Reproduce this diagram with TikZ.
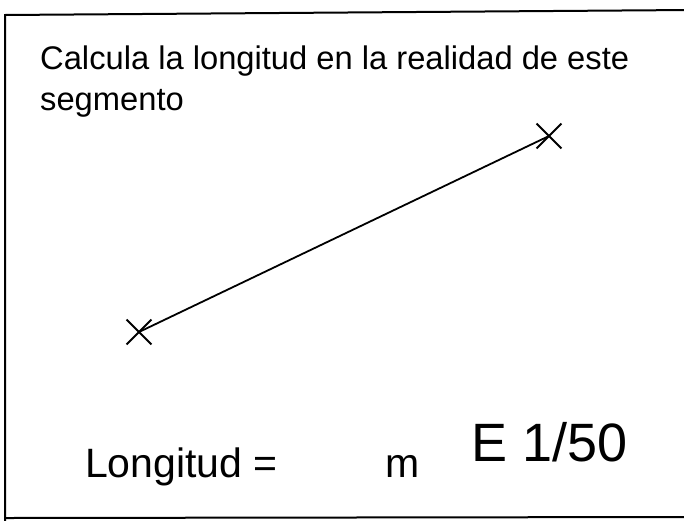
\documentclass[tikz,border=0pt]{standalone}
\usepackage{fontspec}
\setmainfont{Liberation Sans}
\usepackage{xcolor}
\usepackage{tikz}
\usetikzlibrary{shapes.misc,positioning}
\definecolor{ink}{HTML}{000000}
\tikzset{
  frame/.style={draw=ink, line width=2pt},
  seg/.style={draw=ink, line width=1.8pt},
  tick/.style={cross out, draw=ink, line width=1.8pt, minimum size=23pt, inner sep=0pt},
  txt/.style={anchor=base west, inner sep=0pt, text=ink},
}

\begin{document}
\begin{tikzpicture}[x=1pt, y=-1pt]
        \useasboundingbox (0,0) rectangle (684,520);
        \clip (0,0) rectangle (684,520);
        % marco
        \draw[frame] (690,10) -- (5,15) -- (5,525);
        \draw[frame] (5,518) -- (690,517);
        % enunciado
        \node[txt, font=\fontsize{32.7}{41}\selectfont] (enun1) at (40,69) {Calcula la longitud en la realidad de este};
        \node[txt, font=\fontsize{32.7}{41}\selectfont] (enun2) at (40,110) {segmento};
        % segmento
        \node[tick] (pA) at (139,332) {};
        \node[tick] (pB) at (549,136) {};
        \draw[seg] (pA.center) -- (pB.center);
        % respuesta y escala
        \node[txt, font=\fontsize{41}{48}\selectfont] (longi) at (85,477) {Longitud =};
        \node[txt, font=\fontsize{41}{48}\selectfont] (unid) at (385,477) {m};
        \node[txt, font=\fontsize{54}{62}\selectfont] (escala) at (471,461) {E 1/50};
      \end{tikzpicture}
\end{document}
